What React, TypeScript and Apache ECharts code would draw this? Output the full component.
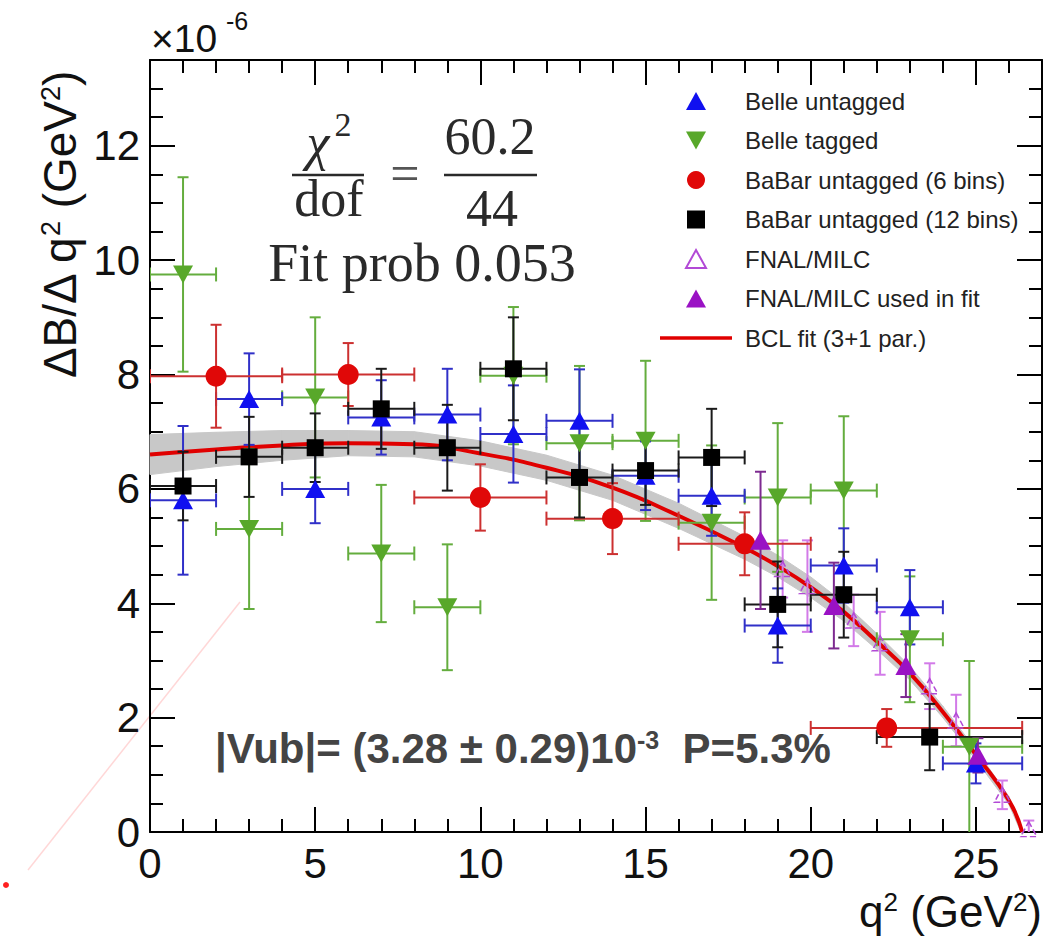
import React, { useEffect, useRef } from 'react';
import * as echarts from 'echarts';

const SANS = "'Liberation Sans', Arial, Helvetica, sans-serif";
const SERIF = "'Liberation Serif', 'Times New Roman', serif";

// ---------- data (q^2 in GeV^2, dB/dq^2 in 1e-6 GeV^-2) ----------
const belleEdgesLo = [0, 2, 4, 6, 8, 10, 12, 14, 16, 18, 20, 22, 24];
const belleEdgesHi = [2, 4, 6, 8, 10, 12, 14, 16, 18, 20, 22, 24, 26.4];

const belleUntaggedX = [1, 3, 5, 7, 9, 11, 13, 15, 17, 19, 21, 23, 25];
const belleUntaggedY = [5.8, 7.57, 6.0, 7.25, 7.3, 6.96, 7.19, 6.23, 5.88, 3.61, 4.66, 3.93, 1.2];
const belleUntaggedErr = [1.3, 0.8, 0.6, 0.65, 0.8, 0.85, 0.9, 0.6, 0.7, 0.65, 0.65, 0.65, 0.35];

const belleTaggedX = [1, 3, 5, 7, 9, 11, 13, 15, 17, 19, 21, 23, 24.8];
const belleTaggedY = [9.75, 5.3, 7.6, 4.87, 3.93, 7.98, 6.8, 6.84, 5.41, 5.85, 5.97, 3.37, 1.49];
const belleTaggedErr = [1.7, 1.4, 1.4, 1.2, 1.1, 1.2, 1.35, 1.4, 1.35, 1.3, 1.3, 1.1, 1.5];

const babar6Lo = [0, 4, 8, 12, 16, 20];
const babar6Hi = [4, 8, 12, 16, 20, 26.4];
const babar6X = [2, 6, 10, 14, 18, 22.3];
const babar6Y = [7.97, 8.0, 5.85, 5.48, 5.04, 1.82];
const babar6Err = [0.9, 0.55, 0.58, 0.62, 0.55, 0.33];

const babar12Lo = [0, 2, 4, 6, 8, 10, 12, 14, 16, 18, 20, 22];
const babar12Hi = [2, 4, 6, 8, 10, 12, 14, 16, 18, 20, 22, 26.4];
const babar12X = [1, 3, 5, 7, 9, 11, 13, 15, 17, 19, 21, 23.6];
const babar12Y = [6.05, 6.56, 6.72, 7.4, 6.72, 8.1, 6.2, 6.32, 6.55, 3.98, 4.15, 1.66];
const babar12Err = [0.6, 0.7, 0.6, 0.7, 0.75, 0.9, 0.7, 0.6, 0.85, 0.75, 0.75, 0.58];

const fnalX = [19.15, 19.9, 21.3, 22.1, 23.6, 24.4, 25.8, 26.6];
const fnalY = [4.6, 4.3, 3.7, 3.3, 2.55, 1.95, 0.65, 0.05];
const fnalErr = [0.5, 0.8, 0.45, 0.55, 0.4, 0.45, 0.25, 0.15];

const fnalFitX = [18.48, 20.7, 22.88, 25.06];
const fnalFitY = [5.1, 3.96, 2.91, 1.34];
const fnalFitErr = [1.2, 0.75, 0.55, 0.3];

const bclX = [0, 2, 4, 6, 8, 10, 12, 14, 16, 18, 19, 20, 21, 22, 23, 24, 25, 26, 26.4];
const bclY = [6.6, 6.69, 6.76, 6.8, 6.78, 6.62, 6.37, 6.02, 5.53, 4.97, 4.65, 4.28, 3.85, 3.33, 2.78, 2.1, 1.35, 0.55, 0.0];
const bclBand = [0.35, 0.3, 0.26, 0.22, 0.22, 0.22, 0.22, 0.22, 0.22, 0.2, 0.19, 0.18, 0.16, 0.14, 0.12, 0.1, 0.09, 0.07, 0.05];

const xTicksMajor = 5;
const xTicksMinor = 1;
const yTicksMajor = 2;
const yTicksMinor = 0.5;

const legendNames = [
  'Belle untagged',
  'Belle tagged',
  'BaBar untagged (6 bins)',
  'BaBar untagged (12 bins)',
  'FNAL/MILC',
  'FNAL/MILC used in fit',
  'BCL fit (3+1 par.)',
];

// ---------- helpers ----------
type Pt = number[];
function errData(xs: number[], ys: number[], lo: number[] | null, hi: number[] | null, err: number[]): Pt[] {
  return xs.map((x, i) => [
    x,
    ys[i],
    lo ? lo[i] : x,
    hi ? hi[i] : x,
    Math.max(0, ys[i] - err[i]),
    ys[i] + err[i],
  ]);
}

function errSeries(data: Pt[], color: string, capV = 11, capH = 14): any {
  return {
    type: 'custom',
    silent: true,
    clip: true,
    z: 3,
    encode: { x: 0, y: 1 },
    data,
    renderItem: (_params: any, api: any) => {
      const x = api.value(0), y = api.value(1);
      const xl = api.value(2), xh = api.value(3), yl = api.value(4), yh = api.value(5);
      const style: any = { stroke: color, lineWidth: 2, fill: null };
      const ch: any[] = [];
      const seg = (p: number[], q: number[]) =>
        ch.push({ type: 'line', shape: { x1: p[0], y1: p[1], x2: q[0], y2: q[1] }, style });
      if (xh > xl) {
        const a = api.coord([xl, y]);
        const b = api.coord([xh, y]);
        seg(a, b);
        seg([a[0], a[1] - capH / 2], [a[0], a[1] + capH / 2]);
        seg([b[0], b[1] - capH / 2], [b[0], b[1] + capH / 2]);
      }
      if (yh > yl) {
        const t = api.coord([x, yh]);
        const bt = api.coord([x, yl]);
        seg(t, bt);
        seg([t[0] - capV / 2, t[1]], [t[0] + capV / 2, t[1]]);
        if (yl > 0) seg([bt[0] - capV / 2, bt[1]], [bt[0] + capV / 2, bt[1]]);
      }
      return { type: 'group', children: ch };
    },
  };
}

const pts = (xs: number[], ys: number[]) => xs.map((x, i) => [x, ys[i]]);

const UP = 'path://M10,0 L20,18 L0,18 Z';
const DOWN = 'path://M0,0 L20,0 L10,18 Z';
const SQUARE = 'path://M0,0 L16,0 L16,16 L0,16 Z';
const LINE_ICON = 'path://M0,0 L72,0 L72,3.5 L0,3.5 Z';

export default function App() {
  const ref = useRef<HTMLDivElement>(null);
  useEffect(() => {
    if (!ref.current) return;
    const chart = echarts.init(ref.current, null, { renderer: 'svg' });

    const axisLineStyle = { color: '#000', width: 2 };
    const mkAxis = (max: number, grid: number, pos: string, interval: number, len: number, labels: boolean, line: boolean): any => ({
      type: 'value',
      gridIndex: grid,
      position: pos,
      min: 0,
      max,
      interval,
      axisLine: { show: line, onZero: false, lineStyle: axisLineStyle },
      axisTick: { show: true, inside: true, length: len, lineStyle: { color: '#000', width: 2 } },
      axisLabel: {
        show: labels,
        fontSize: 42,
        color: '#111',
        fontFamily: SANS,
        margin: 10,
        showMaxLabel: false,
      },
      splitLine: { show: false },
    });

    const gridRect = { left: 150, top: 60, width: 892, height: 772 };

    // band as quads between consecutive fit points
    const bandData = bclX.slice(0, -1).map((x, i) => [
      x, bclY[i] - bclBand[i], bclY[i] + bclBand[i],
      bclX[i + 1], bclY[i + 1] - bclBand[i + 1], bclY[i + 1] + bclBand[i + 1],
    ]);

    const option: any = {
      animation: false,
      backgroundColor: '#ffffff',
      grid: [gridRect, { ...gridRect }],
      xAxis: [
        mkAxis(27, 0, 'bottom', xTicksMajor, 25, true, true),
        mkAxis(27, 0, 'top', xTicksMajor, 25, false, true),
        mkAxis(27, 1, 'bottom', xTicksMinor, 13, false, false),
        mkAxis(27, 1, 'top', xTicksMinor, 13, false, false),
      ],
      yAxis: [
        mkAxis(13.5, 0, 'left', yTicksMajor, 25, true, true),
        mkAxis(13.5, 0, 'right', yTicksMajor, 25, false, true),
        mkAxis(13.5, 1, 'left', yTicksMinor, 13, false, false),
        mkAxis(13.5, 1, 'right', yTicksMinor, 13, false, false),
      ],
      legend: {
        orient: 'vertical',
        left: 660,
        top: 89,
        padding: 0,
        itemWidth: 72,
        itemHeight: 18,
        itemGap: 15.5,
        selectedMode: false,
        symbolKeepAspect: true,
        textStyle: { fontSize: 24, color: '#222', fontFamily: SANS, padding: [0, 0, 0, 8] },
        data: [
          { name: legendNames[0], icon: UP },
          { name: legendNames[1], icon: DOWN },
          { name: legendNames[2], icon: 'circle' },
          { name: legendNames[3], icon: SQUARE },
          { name: legendNames[4], icon: UP },
          { name: legendNames[5], icon: UP },
          { name: legendNames[6], icon: LINE_ICON },
        ],
      },
      series: [
        // fit uncertainty band
        {
          type: 'custom',
          silent: true,
          z: 1,
          encode: { x: [0, 3], y: [1, 2, 4, 5] },
          data: bandData,
          renderItem: (_p: any, api: any) => {
            const a = api.coord([api.value(0), api.value(1)]);
            const b = api.coord([api.value(3), api.value(4)]);
            const c = api.coord([api.value(3), api.value(5)]);
            const d = api.coord([api.value(0), api.value(2)]);
            return {
              type: 'polygon',
              shape: { points: [a, b, c, d] },
              style: { fill: '#c8c8c8', stroke: '#c8c8c8', lineWidth: 1 },
            };
          },
        },
        {
          name: legendNames[6],
          type: 'line',
          smooth: true,
          symbol: 'none',
          z: 2,
          lineStyle: { color: '#e00000', width: 4 },
          itemStyle: { color: '#e00000' },
          data: pts(bclX, bclY),
        },
        // error bars
        errSeries(errData(fnalX, fnalY, null, null, fnalErr), '#d27ae8'),
        errSeries(errData(belleTaggedX, belleTaggedY, belleEdgesLo, belleEdgesHi, belleTaggedErr), '#64ad3e'),
        errSeries(errData(belleUntaggedX, belleUntaggedY, belleEdgesLo, belleEdgesHi, belleUntaggedErr), '#3030c8'),
        errSeries(errData(babar6X, babar6Y, babar6Lo, babar6Hi, babar6Err), '#cc3030'),
        errSeries(errData(babar12X, babar12Y, babar12Lo, babar12Hi, babar12Err), '#1a1a1a'),
        errSeries(errData(fnalFitX, fnalFitY, null, null, fnalFitErr), '#7d2a90'),
        // markers
        {
          name: legendNames[4],
          type: 'scatter',
          z: 4,
          symbol: UP,
          symbolSize: [16, 15],
          itemStyle: { color: 'rgba(255,255,255,0)', borderColor: '#b24ad6', borderWidth: 1.5, borderType: 'dashed', opacity: 1 },
          data: pts(fnalX, fnalY),
        },
        {
          name: legendNames[1],
          type: 'scatter',
          z: 5,
          symbol: DOWN,
          symbolSize: [20, 18],
          itemStyle: { color: '#58a82a', opacity: 1 },
          data: pts(belleTaggedX, belleTaggedY),
        },
        {
          name: legendNames[0],
          type: 'scatter',
          z: 5,
          symbol: UP,
          symbolSize: [20, 18],
          itemStyle: { color: '#1010f0', opacity: 1 },
          data: pts(belleUntaggedX, belleUntaggedY),
        },
        {
          name: legendNames[2],
          type: 'scatter',
          z: 5,
          symbol: 'circle',
          symbolSize: 21,
          itemStyle: { color: '#e00808', opacity: 1 },
          data: pts(babar6X, babar6Y),
        },
        {
          name: legendNames[3],
          type: 'scatter',
          z: 5,
          symbol: SQUARE,
          symbolSize: 17,
          itemStyle: { color: '#000000', opacity: 1 },
          data: pts(babar12X, babar12Y),
        },
        {
          name: legendNames[5],
          type: 'scatter',
          z: 6,
          symbol: UP,
          symbolSize: [21, 19],
          itemStyle: { color: '#9a12c4', opacity: 1 },
          data: pts(fnalFitX, fnalFitY),
        },
      ],
      graphic: {
        elements: [
          // artifact line at lower left
          { type: 'line', z: 0, silent: true, shape: { x1: 28, y1: 870, x2: 240, y2: 602 }, style: { stroke: 'rgba(255,140,140,0.35)', lineWidth: 1.5 } },
          { type: 'circle', z: 0, silent: true, shape: { cx: 6, cy: 885, r: 3 }, style: { fill: '#ff2020' } },
          // exponent
          { type: 'text', z: 10, left: 151, top: 19, style: { text: '×10', font: `39px ${SANS}`, fill: '#111' } },
          { type: 'text', z: 10, left: 226, top: 8, style: { text: '-6', font: `25px ${SANS}`, fill: '#111' } },
          // y axis title
          {
            type: 'text',
            z: 10,
            x: 60,
            y: 225,
            rotation: Math.PI / 2,
            style: {
              x: 0,
              y: 0,
              text: 'ΔB/Δ q{s|2} (GeV{s|2})',
              textAlign: 'center',
              textVerticalAlign: 'middle',
              font: `46px ${SANS}`,
              fill: '#111',
              rich: { s: { fontSize: 27, fontFamily: SANS, verticalAlign: 'top', lineHeight: 46, fill: '#111' } },
            },
          },
          // x axis title
          {
            type: 'text',
            z: 10,
            x: 1042,
            y: 911,
            style: {
              x: 0,
              y: 0,
              text: 'q{s|2} (GeV{s|2})',
              textAlign: 'right',
              textVerticalAlign: 'middle',
              font: `44px ${SANS}`,
              fill: '#111',
              rich: { s: { fontSize: 26, fontFamily: SANS, verticalAlign: 'top', lineHeight: 44, fill: '#111' } },
            },
          },
          // chi2/dof formula
          { type: 'text', z: 10, x: 318, y: 142, style: { x: 0, y: 0, text: 'χ', textAlign: 'center', textVerticalAlign: 'middle', font: `italic 52px ${SERIF}`, fill: '#2a2a2a' } },
          { type: 'text', z: 10, x: 343, y: 124, style: { x: 0, y: 0, text: '2', textAlign: 'center', textVerticalAlign: 'middle', font: `34px ${SERIF}`, fill: '#2a2a2a' } },
          { type: 'line', z: 10, shape: { x1: 292, y1: 175, x2: 364, y2: 175 }, style: { stroke: '#2a2a2a', lineWidth: 2.5 } },
          { type: 'text', z: 10, x: 329, y: 198, style: { x: 0, y: 0, text: 'dof', textAlign: 'center', textVerticalAlign: 'middle', font: `52px ${SERIF}`, fill: '#2a2a2a' } },
          { type: 'text', z: 10, x: 405, y: 173, style: { x: 0, y: 0, text: '=', textAlign: 'center', textVerticalAlign: 'middle', font: `52px ${SERIF}`, fill: '#555' } },
          { type: 'line', z: 10, shape: { x1: 444, y1: 175, x2: 537, y2: 175 }, style: { stroke: '#2a2a2a', lineWidth: 2.5 } },
          { type: 'text', z: 10, x: 490, y: 136, style: { x: 0, y: 0, text: '60.2', textAlign: 'center', textVerticalAlign: 'middle', font: `52px ${SERIF}`, fill: '#2a2a2a' } },
          { type: 'text', z: 10, x: 492, y: 208, style: { x: 0, y: 0, text: '44', textAlign: 'center', textVerticalAlign: 'middle', font: `52px ${SERIF}`, fill: '#2a2a2a' } },
          { type: 'text', z: 10, x: 422, y: 263, style: { x: 0, y: 0, text: 'Fit prob 0.053', textAlign: 'center', textVerticalAlign: 'middle', font: `54px ${SERIF}`, fill: '#2a2a2a' } },
          // Vub result
          {
            type: 'text',
            z: 10,
            x: 215,
            y: 748,
            style: {
              x: 0,
              y: 0,
              text: '|Vub|= (3.28 ± 0.29)10{s|-3}  P=5.3%',
              textAlign: 'left',
              textVerticalAlign: 'middle',
              font: `bold 42px ${SANS}`,
              fill: '#444',
              rich: { s: { fontSize: 25, fontWeight: 'bold', fontFamily: SANS, verticalAlign: 'top', lineHeight: 42, fill: '#444' } },
            },
          },
        ],
      },
    };

    chart.setOption(option);
    return () => chart.dispose();
  }, []);

  return (
    <div
      ref={ref}
      style={{ position: 'absolute', left: 0, top: 0, width: 1061, height: 947, background: '#fff' }}
    />
  );
}
